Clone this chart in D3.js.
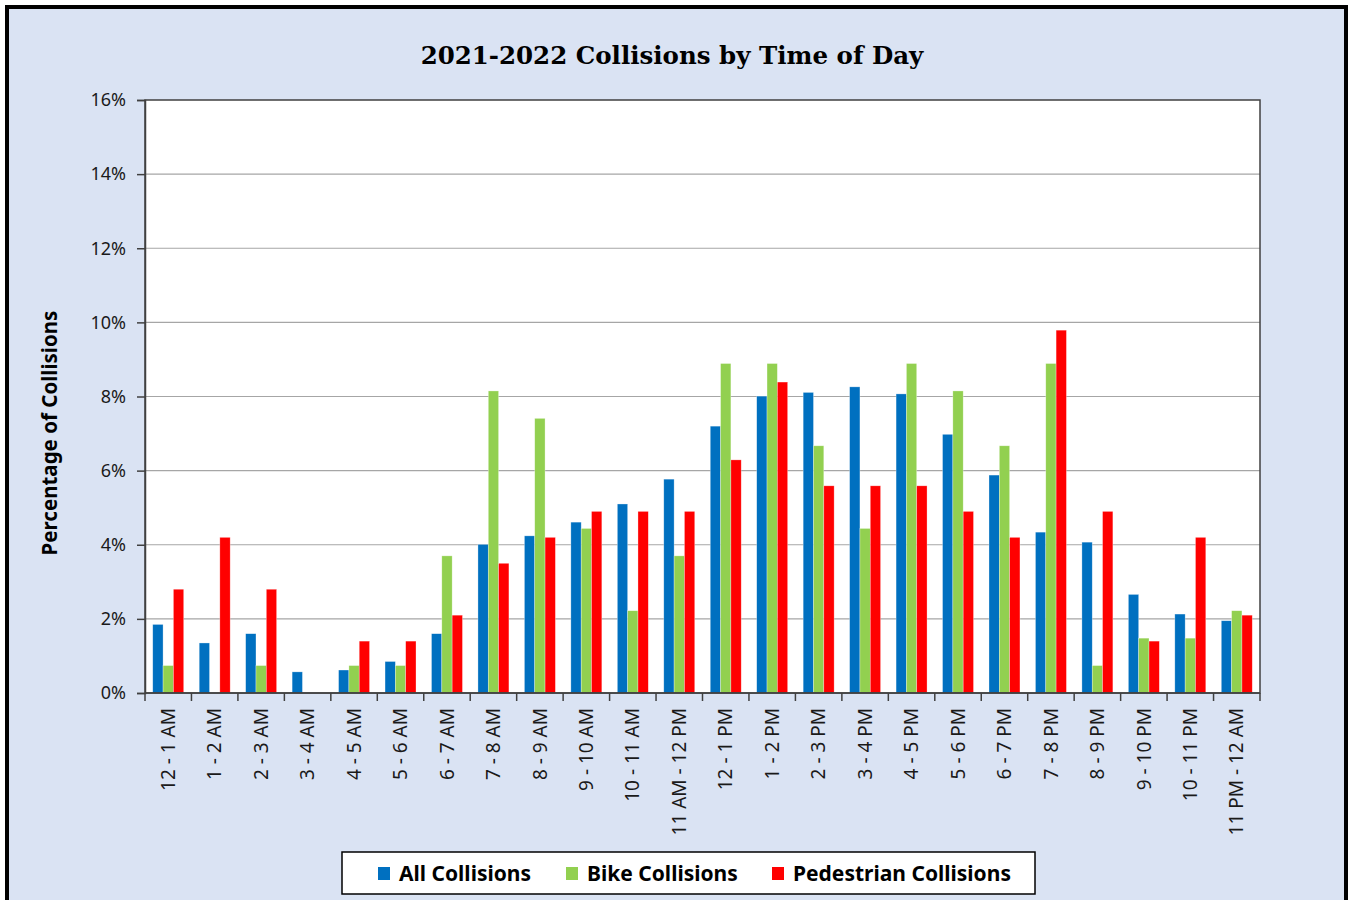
<!DOCTYPE html>
<html>
<head>
<meta charset="utf-8">
<script src="https://cdn.jsdelivr.net/npm/d3@7"></script>
<style>
  body { margin: 0; background: #fff; }
  svg { display: block; }
</style>
</head>
<body>
<svg id="chart" width="1350" height="900"></svg>
<script>
'use strict';

var categories = ['12 - 1 AM', '1 - 2 AM', '2 - 3 AM', '3 - 4 AM', '4 - 5 AM', '5 - 6 AM',
    '6 - 7 AM', '7 - 8 AM', '8 - 9 AM', '9 - 10 AM', '10 - 11 AM', '11 AM - 12 PM',
    '12 - 1 PM', '1 - 2 PM', '2 - 3 PM', '3 - 4 PM', '4 - 5 PM', '5 - 6 PM',
    '6 - 7 PM', '7 - 8 PM', '8 - 9 PM', '9 - 10 PM', '10 - 11 PM', '11 PM - 12 AM'];

var allCollisions = [1.85, 1.35, 1.60, 0.57, 0.62, 0.85, 1.60, 4.01, 4.24, 4.61, 5.10, 5.77,
    7.20, 8.01, 8.11, 8.26, 8.07, 6.98, 5.88, 4.34, 4.07, 2.66, 2.13, 1.95];
var bikeCollisions = [0.74, 0, 0.74, 0, 0.74, 0.74, 3.70, 8.15, 7.41, 4.44, 2.22, 3.70,
    8.89, 8.89, 6.67, 4.44, 8.89, 8.15, 6.67, 8.89, 0.74, 1.48, 1.48, 2.22];
var pedestrianCollisions = [2.80, 4.20, 2.80, 0, 1.40, 1.40, 2.10, 3.50, 4.20, 4.90, 4.90, 4.90,
    6.29, 8.39, 5.59, 5.59, 5.59, 4.90, 4.20, 9.79, 4.90, 1.40, 4.20, 2.10];

var seriesNames = ['All Collisions', 'Bike Collisions', 'Pedestrian Collisions'];
var seriesColors = ['#0070c0', '#92d050', '#ff0000'];
var yTicks = [0, 2, 4, 6, 8, 10, 12, 14, 16];

var series = [allCollisions, bikeCollisions, pedestrianCollisions];

var svg = d3.select('#chart');
var labelFont = '"Noto Sans", "Open Sans", sans-serif';

// outer frame
svg.append('rect')
    .attr('x', 7)
    .attr('y', 7)
    .attr('width', 1339)
    .attr('height', 910)
    .attr('fill', '#dae3f3')
    .attr('stroke', '#000')
    .attr('stroke-width', 4);

var plot = { left: 145, right: 1260, top: 100, bottom: 693 };

var x = d3.scaleBand()
    .domain(categories)
    .range([plot.left, plot.right]);

var inner = d3.scaleBand()
    .domain(d3.range(series.length))
    .range([0, x.bandwidth()])
    .paddingOuter(0.75);

var y = d3.scaleLinear()
    .domain([0, 16])
    .range([plot.bottom, plot.top]);

svg.append('rect')
    .attr('x', plot.left)
    .attr('y', plot.top)
    .attr('width', plot.right - plot.left)
    .attr('height', plot.bottom - plot.top)
    .attr('fill', '#fff');

// gridlines
svg.append('g')
    .selectAll('line')
    .data(yTicks.slice(1, -1))
    .enter().append('line')
    .attr('x1', plot.left)
    .attr('x2', plot.right)
    .attr('y1', function (d) { return y(d); })
    .attr('y2', function (d) { return y(d); })
    .attr('stroke', '#a6a6a6')
    .attr('stroke-width', 1.2);

// bars
var groups = svg.append('g')
    .selectAll('g')
    .data(series)
    .enter().append('g')
    .attr('fill', function (d, i) { return seriesColors[i]; });

groups.each(function (values, s) {
    d3.select(this).selectAll('rect')
        .data(values)
        .enter().append('rect')
        .attr('x', function (d, i) { return x(categories[i]) + inner(s); })
        .attr('y', function (d) { return y(d); })
        .attr('width', inner.bandwidth())
        .attr('height', function (d) { return y(0) - y(d); })
        .attr('stroke', '#ffffff')
        .attr('stroke-opacity', 0.5)
        .attr('stroke-width', 0.6);
});

// plot border
svg.append('rect')
    .attr('x', plot.left)
    .attr('y', plot.top)
    .attr('width', plot.right - plot.left)
    .attr('height', plot.bottom - plot.top)
    .attr('fill', 'none')
    .attr('stroke', '#404040')
    .attr('stroke-width', 1.5);

// y axis
var yAxis = svg.append('g')
    .attr('transform', 'translate(' + plot.left + ',0)')
    .call(d3.axisLeft(y)
        .tickValues(yTicks)
        .tickSize(8)
        .tickPadding(11)
        .tickFormat(function (d) { return d + '%'; }));
yAxis.select('.domain').attr('stroke', '#404040').attr('stroke-width', 1.5);
yAxis.selectAll('.tick line').attr('stroke', '#404040').attr('stroke-width', 1.5);
yAxis.selectAll('text')
    .attr('font-family', labelFont)
    .attr('font-size', 18)
    .attr('fill', '#1a1a1a');

// x axis with ticks at category boundaries
var xAxis = svg.append('g')
    .attr('transform', 'translate(0,' + plot.bottom + ')');
xAxis.append('line')
    .attr('x1', plot.left)
    .attr('x2', plot.right)
    .attr('stroke', '#404040')
    .attr('stroke-width', 1.5);
xAxis.selectAll('.bound')
    .data(d3.range(categories.length + 1))
    .enter().append('line')
    .attr('class', 'bound')
    .attr('x1', function (d) { return plot.left + d * x.step(); })
    .attr('x2', function (d) { return plot.left + d * x.step(); })
    .attr('y1', 0)
    .attr('y2', 8)
    .attr('stroke', '#404040')
    .attr('stroke-width', 1.5);
xAxis.selectAll('.label')
    .data(categories)
    .enter().append('text')
    .attr('class', 'label')
    .attr('transform', function (d) {
        return 'translate(' + (x(d) + x.bandwidth() / 2) + ',15) rotate(-90)';
    })
    .attr('dy', '0.35em')
    .attr('text-anchor', 'end')
    .attr('font-family', labelFont)
    .attr('font-size', 19)
    .attr('fill', '#1a1a1a')
    .text(function (d) { return d; });

// title
svg.append('text')
    .attr('x', 672)
    .attr('y', 64)
    .attr('text-anchor', 'middle')
    .attr('font-family', '"DejaVu Serif", serif')
    .attr('font-weight', 'bold')
    .attr('font-size', 24.5)
    .attr('fill', '#000')
    .text('2021-2022 Collisions by Time of Day');

// y axis title
svg.append('text')
    .attr('transform', 'translate(57,433) rotate(-90)')
    .attr('text-anchor', 'middle')
    .attr('font-family', labelFont)
    .attr('font-weight', 'bold')
    .attr('font-size', 20.5)
    .attr('fill', '#000')
    .text('Percentage of Collisions');

// legend
var legend = svg.append('g');
legend.append('rect')
    .attr('x', 342)
    .attr('y', 852)
    .attr('width', 693)
    .attr('height', 42)
    .attr('fill', '#fff')
    .attr('stroke', '#000')
    .attr('stroke-width', 1.5);

var legendX = [378, 566, 772];
var item = legend.selectAll('.item')
    .data(seriesNames)
    .enter().append('g')
    .attr('class', 'item')
    .attr('transform', function (d, i) { return 'translate(' + legendX[i] + ',0)'; });
item.append('rect')
    .attr('x', 0)
    .attr('y', 867)
    .attr('width', 12)
    .attr('height', 13)
    .attr('fill', function (d, i) { return seriesColors[i]; });
item.append('text')
    .attr('x', 21)
    .attr('y', 881)
    .attr('font-family', labelFont)
    .attr('font-weight', 'bold')
    .attr('font-size', 21)
    .attr('fill', '#000')
    .text(function (d) { return d; });
</script>
</body>
</html>
